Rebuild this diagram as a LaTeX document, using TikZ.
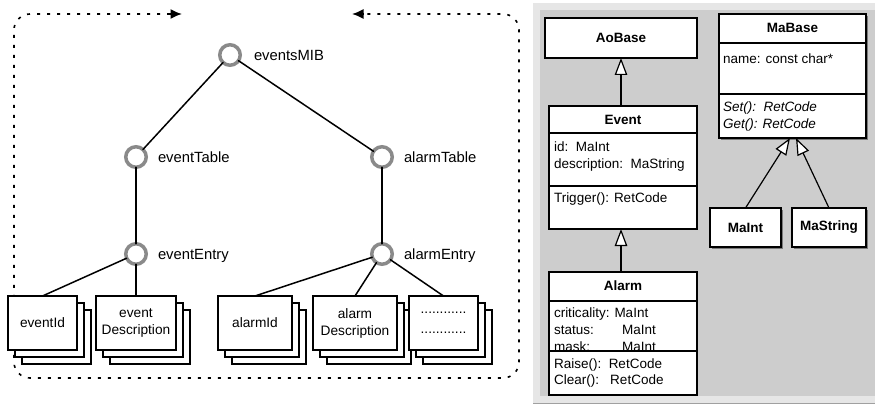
\documentclass[tikz,border=0pt]{standalone}
\usepackage{fontspec}
\setmainfont{Liberation Sans}
\usetikzlibrary{arrows.meta}

\definecolor{mibgray}{HTML}{8A8A8A}
\definecolor{panelgray}{HTML}{CDCDCD}
\definecolor{panellight}{HTML}{E6E6E6}
\definecolor{panelline}{HTML}{A0A0A0}
\definecolor{shadowgray}{HTML}{7A7A7A}

% stacked entry boxes: two copies behind, then the front box
\newcommand\entrystack[4]{%
  \draw[backbox] (#2+14,310) rectangle ++(#3,54);
  \draw[backbox] (#2+7,303) rectangle ++(#3,54);
  \node[entrybox, minimum width=#3pt] (#1) at (#2,296) {#4};
}

\begin{document}
\begin{tikzpicture}[x=1pt,y=-1pt,
  every node/.style={inner sep=0pt, outer sep=0pt},
  mib/.style={circle, draw=mibgray, line width=3.5pt, fill=white, minimum size=20.5pt},
  mibedge/.style={line width=1.5pt, line cap=round},
  lbl/.style={anchor=base west, font=\fontsize{14.8}{17}\selectfont},
  entrybox/.style={draw, line width=1.3pt, fill=white, minimum height=54pt,
    anchor=north west, align=center, font=\fontsize{13.7}{17}\selectfont},
  backbox/.style={draw, line width=1.3pt, fill=white},
  frameline/.style={line width=1.6pt, dash pattern=on 3pt off 7pt},
  frametip/.style={line width=1.6pt, -{Latex[length=11.5pt,width=10pt]}},
  cls/.style={draw, line width=1.2pt, fill=white, anchor=north west},
  title/.style={font=\fontsize{13.5}{16.5}\selectfont\bfseries},
  attr/.style={anchor=base west, font=\fontsize{13.5}{16.5}\selectfont},
  opit/.style={anchor=base west, font=\fontsize{13.5}{16.5}\selectfont\itshape},
  sep/.style={line width=1.2pt},
  gen/.style={line width=1.2pt, -{Triangle[length=17pt,width=12.5pt,fill=white,line width=1.2pt]}}
]
\useasboundingbox (0,0) rectangle (875,406);

% ---------- MIB tree ----------
\coordinate (fA) at (182,14);
\coordinate (fA0) at (170,14);
\coordinate (fB) at (14,14);
\coordinate (fC) at (14,378);
\coordinate (fD) at (519,378);
\coordinate (fE) at (519,14);
\coordinate (fF) at (352,14);
\coordinate (fF0) at (364,14);
\draw[frameline, rounded corners=16pt] (fA0) -- (fB) -- (fC) -- (fD) -- (fE) -- (fF0);
\draw[frametip] (fA0) -- (fA);
\draw[frametip] (fF0) -- (fF);

\node[mib] (mib)  at (230,55)  {};
\node[mib] (etab) at (136,157) {};
\node[mib] (atab) at (382,157) {};
\node[mib] (eent) at (136,254) {};
\node[mib] (aent) at (382,254) {};

\node[lbl] at (254,60.3)  {eventsMIB};
\node[lbl] at (158,162.3) {eventTable};
\node[lbl] at (404,162.3) {alarmTable};
\node[lbl] at (158,259.3) {eventEntry};
\node[lbl] at (404,259.3) {alarmEntry};

\entrystack{eid}{8}{69}{eventId}
\entrystack{edesc}{96}{80}{event\\Description}
\entrystack{aid}{218}{74}{alarmId}
\entrystack{adesc}{313}{84}{alarm\\Description}
\entrystack{more}{409}{69}{............\\[3pt]............}

\draw[mibedge] (mib) -- (etab);
\draw[mibedge] (mib) -- (atab);
\draw[mibedge] (etab) -- (eent);
\draw[mibedge] (atab) -- (aent);
\draw[mibedge] (eent) -- (eid.north);
\draw[mibedge] (eent) -- (edesc.north);
\draw[mibedge] (aent) -- (aid.north);
\draw[mibedge] (aent) -- (adesc.north);
\draw[mibedge] (aent) -- (more.north);

% ---------- class panel ----------
\fill[panellight] (533,3) rectangle (875,403);
\fill[panelgray] (540,10) rectangle (875,396);
\draw[panelline, line width=1pt] (533,403.5) -- (875,403.5);

% AoBase
\node[cls, minimum width=152pt, minimum height=40pt] (aobase) at (545,18) {};
\node[title] at (aobase.center) {AoBase};

% Event
\node[cls, minimum width=148pt, minimum height=123pt] (event) at (549,106) {};
\draw[sep] (549,133) -- (697,133);
\draw[sep] (549,186) -- (697,186);
\node[title] at (623,119.5) {Event};
\node[attr] at (554,151.9) {id:\ \ MaInt};
\node[attr] at (554,168.4) {description:\ \ MaString};
\node[attr] at (554,202.9) {Trigger(): RetCode};

% Alarm
\node[cls, minimum width=148pt, minimum height=123pt] (alarm) at (549,272) {};
\node[attr] at (554,317.9) {criticality: MaInt};
\node[attr] at (554,334.9) {status:};
\node[attr] at (622,334.9) {MaInt};
\node[attr] at (554,351.9) {mask:};
\node[attr] at (622,351.9) {MaInt};
\fill[white] (550,352) rectangle (696,394);
\draw[sep] (549,301) -- (697,301);
\draw[sep] (549,351) -- (697,351);
\draw[line width=1.2pt] (alarm.north west) rectangle (alarm.south east);
\node[title] at (623,286) {Alarm};
\node[attr] at (554,368.9) {Raise():\ \ RetCode};
\node[attr] at (554,384.9) {Clear():\ \ \ RetCode};

% MaBase and its subclasses (with a thin shadow)
\fill[shadowgray] (721,16) rectangle (868,140);
\node[cls, minimum width=147pt, minimum height=124pt] (mabase) at (719,14) {};
\draw[sep] (719,43) -- (866,43);
\draw[sep] (719,94) -- (866,94);
\node[title] at (792.5,28) {MaBase};
\node[attr] at (723,63.9) {name: const char*};
\node[opit] at (723,111.9) {Set():\ \ RetCode};
\node[opit] at (723,128.9) {Get(): RetCode};

\fill[shadowgray] (712,210) rectangle (783,249);
\node[cls, minimum width=71pt, minimum height=39pt] (maint) at (710,208) {};
\node[title] at (maint.center) {MaInt};
\fill[shadowgray] (794,210) rectangle (868,249);
\node[cls, minimum width=74pt, minimum height=39pt] (mastring) at (792,208) {};
\node[title] at (mastring.center) {MaString};

% generalizations
\draw[gen] (aobase.south |- event.north) -- (aobase.south);
\draw[gen] (aobase.south |- alarm.north) -- (aobase.south |- event.south);
\draw[gen] (maint.north) -- ([xshift=-2.5pt]mabase.south);
\draw[gen] (mastring.north) -- ([xshift=3.5pt]mabase.south);
\end{tikzpicture}
\end{document}
